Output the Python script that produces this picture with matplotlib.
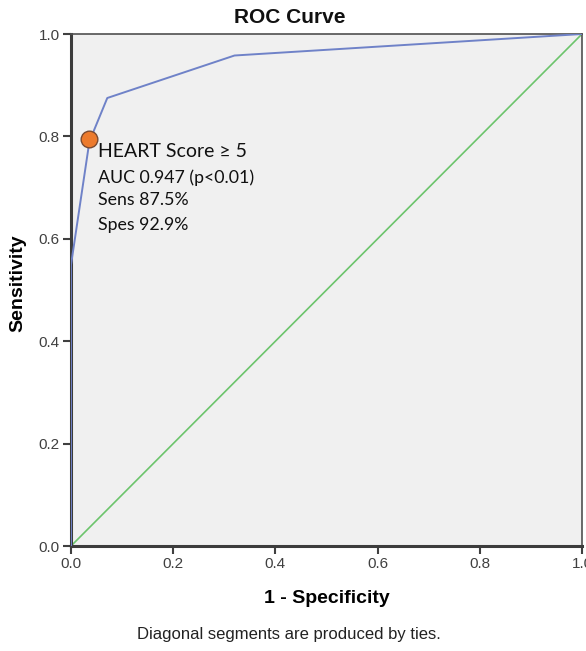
import numpy as np
import matplotlib as mpl
import matplotlib.pyplot as plt

mpl.rcParams['font.family'] = ['Liberation Sans', 'DejaVu Sans']

# ROC curve points
fpr = [0.0, 0.0, 0.036, 0.071, 0.32, 1.0]
tpr = [0.0, 0.549, 0.79, 0.875, 0.958, 1.0]
ref_line = [0.0, 1.0]
cut_x, cut_y = 0.036, 0.795
ticks = [0.0, 0.2, 0.4, 0.6, 0.8, 1.0]

fig = plt.figure(figsize=(5.86, 6.51), dpi=100)
ax = fig.add_axes([71/586, 1 - 546/651, 511/586, 512/651])
ax.set_facecolor('#f0f0f0')

ax.plot(ref_line, ref_line, color='#6cc46c', linewidth=1.2, zorder=2)
ax.plot(fpr, tpr, color='#6f82c8', linewidth=1.4, zorder=3)
ax.plot([cut_x], [cut_y], 'o', markersize=12, markerfacecolor='#ec7a2c',
        markeredgecolor='#7a4a30', markeredgewidth=1.0, zorder=4, clip_on=False)

ax.set_xlim(0, 1)
ax.set_ylim(0, 1)
ax.set_xticks(ticks)
ax.set_yticks(ticks)
ax.set_xticklabels(['%.1f' % t for t in ticks])
ax.set_yticklabels(['%.1f' % t for t in ticks])
ax.tick_params(direction='out', length=6, width=1.5, color='#404040',
               labelcolor='#404040', labelsize=11, pad=2)

for side in ['left', 'bottom']:
    ax.spines[side].set_linewidth(2.2)
    ax.spines[side].set_color('#3c3c3c')
for side in ['top', 'right']:
    ax.spines[side].set_linewidth(1.2)
    ax.spines[side].set_color('#505050')

# title centred on the whole chart, as SPSS does
fig.text(290/586, 1 - 23/651, 'ROC Curve', ha='center', va='baseline',
         fontsize=15, fontweight='bold', color='#111111')
ax.set_xlabel('1 - Specificity', fontsize=14, fontweight='bold')
ax.set_ylabel('Sensitivity', fontsize=14, fontweight='bold')
ax.xaxis.set_label_coords(0.5, -(603 - 546) / 512)
ax.xaxis.label.set_va('baseline')
ax.yaxis.set_label_coords(-(71 - 18) / 511, (546 - 283) / 512)
ax.yaxis.label.set_va('center')

# annotation near the cutoff point
ann_font = ['Lato', 'DejaVu Sans']
ax.text(0.053, 0.760, 'HEART Score \u2265 5', fontsize=14, family=ann_font, color='#111111')
ax.text(0.053, 0.709, 'AUC 0.947 (p<0.01)', fontsize=12.8, family=ann_font, color='#111111')
ax.text(0.053, 0.666, 'Sens 87.5%', fontsize=12.8, family=ann_font, color='#111111')
ax.text(0.053, 0.617, 'Spes 92.9%', fontsize=12.8, family=ann_font, color='#111111')

fig.text(289/586, 1 - 634/651, 'Diagonal segments are produced by ties.',
         ha='center', va='center', fontsize=12, color='#222222')

fig.savefig('out.png', dpi=100)
